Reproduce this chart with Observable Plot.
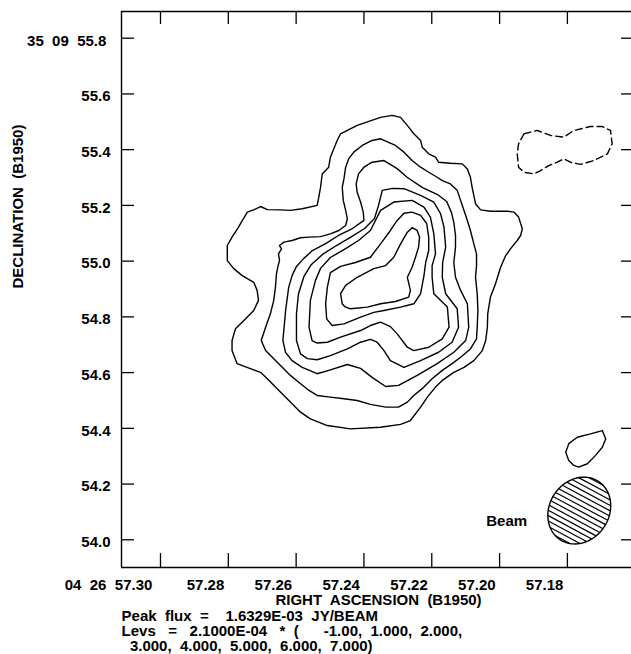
<!DOCTYPE html>
<html><head><meta charset="utf-8">
<script src="https://cdn.jsdelivr.net/npm/d3@7"></script>
<script src="https://cdn.jsdelivr.net/npm/@observablehq/plot@0.6"></script>
<style>
html,body{margin:0;padding:0;background:#fff;}
body{width:631px;height:654px;overflow:hidden;}
#chart svg{display:block;}
#chart svg text{white-space:pre;}
#caption{font-family:"Liberation Sans",Arial,Helvetica,sans-serif;font-weight:bold;font-size:15px;line-height:15.2px;margin-top:-1px;padding-left:121.6px;white-space:pre;color:#000;}
</style></head><body>
<div id="chart"></div>
<div id="caption"></div>
<script>
// ---- axes / ticks ----
const xTicks = [57.30, 57.28, 57.26, 57.24, 57.22, 57.20, 57.18];
const xTickLabels = ["04  26  57.30 ", "57.28", "57.26", "57.24", "57.22", "57.20", "57.18"];
const yTicks = [54.0, 54.2, 54.4, 54.6, 54.8, 55.0, 55.2, 55.4, 55.6, 55.8];
const yTickLabels = ["54.0", "54.2", "54.4", "54.6", "54.8", "55.0", "55.2", "55.4", "55.6", "35  09  55.8 "];
const xTitle = "RIGHT  ASCENSION  (B1950)";
const yTitle = "DECLINATION  (B1950)";
const captionLines = [
  "Peak  flux  =    1.6329E-03  JY/BEAM",
  "Levs   =   2.1000E-04   *  (      -1.00,  1.000,  2.000,",
  "  3.000,  4.000,  5.000,  6.000,  7.000)"
];
const xDomain = [57.3115, 57.1611];
const yDomain = [53.9006, 55.8958];

// ---- contours: [RA seconds, Dec arcsec] ----
const level1Main = [[57.2803,55.056],[57.2789,55.086],[57.2770,55.122],[57.2744,55.176],[57.2725,55.184],[57.2705,55.196],[57.2685,55.185],[57.2646,55.184],[57.2617,55.182],[57.2582,55.188],[57.2538,55.200],[57.2534,55.224],[57.2528,55.265],[57.2523,55.313],[57.2504,55.337],[57.2499,55.373],[57.2479,55.433],[57.2469,55.457],[57.2420,55.487],[57.2351,55.516],[57.2317,55.523],[57.2292,55.516],[57.2268,55.481],[57.2253,55.457],[57.2233,55.433],[57.2228,55.409],[57.2209,55.385],[57.2189,55.373],[57.2180,55.355],[57.2145,55.351],[57.2110,55.349],[57.2095,55.331],[57.2086,55.301],[57.2081,55.265],[57.2071,55.206],[57.2056,55.184],[57.2027,55.179],[57.1977,55.179],[57.1958,55.176],[57.1944,55.158],[57.1933,55.116],[57.1938,55.092],[57.1948,55.074],[57.1968,55.044],[57.1982,55.020],[57.1997,54.978],[57.2012,54.919],[57.2027,54.871],[57.2035,54.811],[57.2036,54.763],[57.2041,54.715],[57.2051,54.679],[57.2076,54.643],[57.2105,54.619],[57.2135,54.601],[57.2169,54.572],[57.2189,54.548],[57.2213,54.512],[57.2233,54.476],[57.2263,54.428],[57.2292,54.414],[57.2351,54.404],[57.2440,54.398],[57.2508,54.410],[57.2558,54.434],[57.2587,54.458],[57.2612,54.488],[57.2636,54.518],[57.2661,54.548],[57.2685,54.578],[57.2705,54.601],[57.2735,54.614],[57.2774,54.632],[57.2789,54.679],[57.2789,54.715],[57.2779,54.757],[57.2754,54.787],[57.2725,54.823],[57.2711,54.859],[57.2715,54.895],[57.2725,54.924],[57.2759,54.948],[57.2784,54.973],[57.2803,55.002]];
const level1Small = [[57.1805,54.314],[57.1796,54.345],[57.1771,54.368],[57.1732,54.380],[57.1697,54.392],[57.1687,54.362],[57.1697,54.332],[57.1717,54.303],[57.1741,54.273],[57.1767,54.261],[57.1781,54.267],[57.1796,54.285]];
const levelNeg1 = [[57.1928,55.457],[57.1889,55.469],[57.1850,55.451],[57.1810,55.445],[57.1781,55.469],[57.1732,55.483],[57.1697,55.483],[57.1673,55.469],[57.1668,55.421],[57.1682,55.385],[57.1722,55.361],[57.1761,55.347],[57.1791,55.355],[57.1810,55.367],[57.1830,55.355],[57.1855,55.343],[57.1879,55.325],[57.1899,55.313],[57.1928,55.319],[57.1944,55.337],[57.1948,55.385],[57.1944,55.421]];
const level2 = [[57.2351,55.439],[57.2307,55.415],[57.2282,55.391],[57.2258,55.361],[57.2233,55.337],[57.2209,55.319],[57.2184,55.301],[57.2169,55.289],[57.2145,55.277],[57.2125,55.254],[57.2115,55.218],[57.2105,55.182],[57.2095,55.146],[57.2086,55.110],[57.2076,55.062],[57.2068,55.026],[57.2068,54.984],[57.2071,54.942],[57.2066,54.883],[57.2064,54.823],[57.2066,54.763],[57.2068,54.721],[57.2086,54.685],[57.2115,54.655],[57.2140,54.632],[57.2169,54.608],[57.2199,54.578],[57.2223,54.548],[57.2253,54.518],[57.2272,54.494],[57.2298,54.476],[57.2336,54.476],[57.2381,54.486],[57.2420,54.500],[57.2459,54.506],[57.2499,54.512],[57.2538,54.518],[57.2562,54.536],[57.2587,54.560],[57.2617,54.590],[57.2641,54.619],[57.2666,54.650],[57.2690,54.679],[57.2703,54.715],[57.2690,54.763],[57.2676,54.811],[57.2666,54.859],[57.2661,54.906],[57.2658,54.955],[57.2653,54.984],[57.2649,55.002],[57.2652,55.026],[57.2643,55.044],[57.2649,55.056],[57.2636,55.068],[57.2612,55.074],[57.2587,55.084],[57.2562,55.086],[57.2528,55.088],[57.2499,55.098],[57.2474,55.110],[57.2454,55.128],[57.2449,55.152],[57.2454,55.182],[57.2461,55.218],[57.2464,55.265],[57.2459,55.295],[57.2454,55.337],[57.2445,55.367],[57.2430,55.391],[57.2405,55.415],[57.2376,55.433]];
const level3 = [[57.2400,55.337],[57.2376,55.355],[57.2341,55.361],[57.2302,55.332],[57.2272,55.300],[57.2227,55.264],[57.2183,55.239],[57.2156,55.214],[57.2142,55.175],[57.2135,55.139],[57.2130,55.092],[57.2130,55.050],[57.2135,54.995],[57.2130,54.942],[57.2115,54.895],[57.2095,54.847],[57.2091,54.763],[57.2100,54.715],[57.2135,54.673],[57.2184,54.632],[57.2243,54.590],[57.2298,54.554],[57.2336,54.550],[57.2375,54.582],[57.2410,54.615],[57.2449,54.629],[57.2499,54.610],[57.2538,54.596],[57.2582,54.619],[57.2612,54.643],[57.2631,54.672],[57.2639,54.715],[57.2631,54.823],[57.2622,54.906],[57.2612,54.948],[57.2599,54.981],[57.2578,55.009],[57.2552,55.038],[57.2513,55.063],[57.2475,55.092],[57.2434,55.117],[57.2400,55.146],[57.2402,55.176],[57.2410,55.212],[57.2420,55.247],[57.2423,55.277],[57.2416,55.313]];
const level4 = [[57.2346,55.254],[57.2316,55.261],[57.2282,55.260],[57.2233,55.236],[57.2194,55.212],[57.2174,55.170],[57.2164,55.122],[57.2159,55.050],[57.2168,54.995],[57.2169,54.942],[57.2159,54.883],[57.2125,54.829],[57.2121,54.763],[57.2140,54.709],[57.2180,54.673],[57.2233,54.643],[57.2282,54.619],[57.2322,54.643],[57.2341,54.679],[57.2361,54.709],[57.2381,54.719],[57.2410,54.709],[57.2449,54.685],[57.2499,54.661],[57.2538,54.646],[57.2567,54.650],[57.2587,54.667],[57.2599,54.715],[57.2599,54.811],[57.2593,54.883],[57.2577,54.945],[57.2555,54.988],[57.2522,55.024],[57.2481,55.056],[57.2440,55.085],[57.2398,55.117],[57.2369,55.153],[57.2357,55.200]];
const level5 = [[57.2351,55.182],[57.2312,55.212],[57.2258,55.218],[57.2223,55.194],[57.2204,55.158],[57.2194,55.098],[57.2189,55.026],[57.2199,54.984],[57.2199,54.942],[57.2194,54.883],[57.2154,54.835],[57.2149,54.763],[57.2169,54.721],[57.2209,54.691],[57.2253,54.679],[57.2272,54.691],[57.2302,54.739],[57.2322,54.765],[57.2351,54.781],[57.2381,54.769],[57.2410,54.751],[57.2469,54.727],[57.2508,54.709],[57.2538,54.706],[57.2553,54.715],[57.2562,54.763],[57.2558,54.859],[57.2543,54.931],[57.2528,54.974],[57.2499,55.013],[57.2454,55.045],[57.2416,55.074],[57.2381,55.110]];
const level6 = [[57.2282,55.172],[57.2258,55.176],[57.2233,55.164],[57.2215,55.135],[57.2209,55.085],[57.2209,55.038],[57.2218,54.995],[57.2223,54.948],[57.2233,54.883],[57.2253,54.847],[57.2292,54.835],[57.2341,54.823],[57.2371,54.816],[57.2410,54.799],[57.2459,54.775],[57.2494,54.769],[57.2510,54.793],[57.2513,54.847],[57.2508,54.906],[57.2499,54.959],[57.2469,54.981],[57.2425,54.995],[57.2381,55.014],[57.2351,55.062],[57.2322,55.110],[57.2302,55.146]];
const level7 = [[57.2258,55.120],[57.2243,55.110],[57.2236,55.086],[57.2239,55.050],[57.2248,55.014],[57.2258,54.978],[57.2272,54.942],[57.2263,54.895],[57.2268,54.871],[57.2307,54.855],[57.2351,54.847],[57.2390,54.835],[57.2440,54.829],[57.2457,54.837],[57.2464,54.847],[57.2469,54.883],[57.2454,54.913],[57.2420,54.942],[57.2371,54.973],[57.2336,54.984],[57.2312,55.014],[57.2292,55.062],[57.2272,55.104]];

// ---- beam ----
const beamLabel = ["Beam"];
const beamLabelPos = [57.1979, 54.067];
const beamRA = 57.1765, beamDec = 54.105;
const beamMajor = 0.251, beamMinor = 0.215, beamPA = -35; // arcsec, deg
const hatchAngle = 28, hatchSpacing = 0.0172;

// ---- derived geometry ----
const deg = Math.PI / 180;
const secPerArcsec = 1 / (15 * Math.cos(35.1526 * deg));
const th = -beamPA * deg;
const a = beamMajor / 2, b = beamMinor / 2;
const m = [Math.sin(th), Math.cos(th)], n = [Math.cos(th), -Math.sin(th)];
const toSky = ([u, v]) => ({ra: beamRA - u * secPerArcsec, dec: beamDec + v});
const beamOutline = d3.range(0, 361, 4).map(t => {
  const al = a * Math.cos(t * deg), be = b * Math.sin(t * deg);
  return toSky([al * m[0] + be * n[0], al * m[1] + be * n[1]]);
});
const phi = hatchAngle * deg;
const dir = [Math.cos(phi), -Math.sin(phi)], nrm = [Math.sin(phi), Math.cos(phi)];
const hatch = [];
for (let k = -20; k <= 20; k++) {
  const c = k * hatchSpacing;
  const p0 = [c * nrm[0], c * nrm[1]];
  const a0 = p0[0] * m[0] + p0[1] * m[1], b0 = p0[0] * n[0] + p0[1] * n[1];
  const ad = dir[0] * m[0] + dir[1] * m[1], bd = dir[0] * n[0] + dir[1] * n[1];
  const A = ad * ad / (a * a) + bd * bd / (b * b);
  const B = 2 * (a0 * ad / (a * a) + b0 * bd / (b * b));
  const C = a0 * a0 / (a * a) + b0 * b0 / (b * b) - 1;
  const disc = B * B - 4 * A * C;
  if (disc <= 0) continue;
  const s1 = (-B - Math.sqrt(disc)) / (2 * A), s2 = (-B + Math.sqrt(disc)) / (2 * A);
  const P1 = toSky([p0[0] + s1 * dir[0], p0[1] + s1 * dir[1]]);
  const P2 = toSky([p0[0] + s2 * dir[0], p0[1] + s2 * dir[1]]);
  hatch.push({ra1: P1.ra, dec1: P1.dec, ra2: P2.ra, dec2: P2.dec});
}

const closed = pts => pts.concat([pts[0]]);
const solid = [level1Main, level1Small, level2, level3, level4, level5, level6, level7];
const solidRows = solid.flatMap((pts, i) => closed(pts).map(([ra, dec]) => ({ra, dec, id: i})));
const dashedRows = closed(levelNeg1).map(([ra, dec]) => ({ra, dec}));

const W = 631, H = 609, mL = 121, mR = 0, mT = 11, mB = 42;
const plotW = W - mL - mR, plotH = H - mT - mB;
const ink = "#000";

const chart = Plot.plot({
  width: W, height: H,
  marginLeft: mL, marginRight: mR, marginTop: mT, marginBottom: mB,
  x: {domain: xDomain, axis: null},
  y: {domain: yDomain, axis: null},
  style: {fontFamily: "'Liberation Sans', Arial, Helvetica, sans-serif", fontSize: "15px", fontWeight: "bold", background: "#fff", color: ink, overflow: "visible"},
  marks: [
    Plot.ruleX([xDomain[0]], {stroke: ink, strokeWidth: 1.4}),
    Plot.ruleY([yDomain[0], yDomain[1]], {stroke: ink, strokeWidth: 1.4}),
    Plot.ruleX(xTicks, {stroke: ink, strokeWidth: 1.3, insetTop: plotH - 14}),
    Plot.ruleX(xTicks, {stroke: ink, strokeWidth: 1.3, insetBottom: plotH - 13}),
    Plot.ruleY(yTicks, {stroke: ink, strokeWidth: 1.3, insetRight: plotW - 13}),
    Plot.ruleY(yTicks, {stroke: ink, strokeWidth: 1.3, insetLeft: plotW - 10}),
    Plot.text(xTicks, {x: d => d, text: (d, i) => xTickLabels[i], frameAnchor: "bottom", textAnchor: "end", lineAnchor: "middle", dx: -4, dy: 17.5, fill: ink}),
    Plot.text(yTicks, {y: d => d, text: (d, i) => yTickLabels[i], frameAnchor: "left", textAnchor: "end", lineAnchor: "middle", dx: -11, dy: 2.5, fill: ink}),
    Plot.text([xTitle], {frameAnchor: "bottom", lineAnchor: "middle", dy: 33, dx: 2, fill: ink}),
    Plot.text([yTitle], {frameAnchor: "left", rotate: -90, lineAnchor: "middle", dx: -103.5, dy: -1, fill: ink}),
    Plot.line(solidRows, {x: "ra", y: "dec", z: "id", stroke: ink, strokeWidth: 1.4, curve: "linear"}),
    Plot.line(dashedRows, {x: "ra", y: "dec", stroke: ink, strokeWidth: 1.4, strokeDasharray: "7,4", curve: "linear"}),
    Plot.line(beamOutline, {x: "ra", y: "dec", stroke: ink, strokeWidth: 1.4}),
    Plot.link(hatch, {x1: "ra1", y1: "dec1", x2: "ra2", y2: "dec2", stroke: ink, strokeWidth: 1.2}),
    Plot.text(beamLabel, {x: () => beamLabelPos[0], y: () => beamLabelPos[1], text: d => d, lineAnchor: "middle", fill: ink})
  ]
});
document.getElementById("chart").appendChild(chart);
document.getElementById("caption").textContent = captionLines.join("\n");
</script>
</body></html>
